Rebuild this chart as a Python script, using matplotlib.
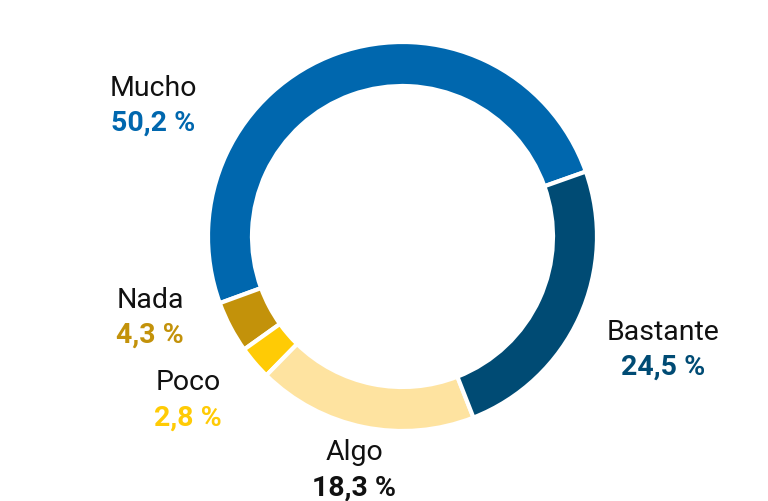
import matplotlib.pyplot as plt

plt.rcParams['font.family'] = ['Roboto', 'DejaVu Sans']

labels = ['Mucho', 'Nada', 'Poco', 'Algo', 'Bastante']
values = [50.2, 4.3, 2.8, 18.3, 24.5]
colors = ['#0067ae', '#c3920a', '#ffcb05', '#fee3a0', '#004b74']
pct_colors = ['#0067ae', '#c3920a', '#ffcb05', '#111111', '#004b74']

# label anchor points (pixel space, y up)
label_pos = [(153, 414), (150, 202), (188, 119), (354, 49), (663, 170)]

fig = plt.figure(figsize=(7.68, 5.02), dpi=100)
ax = fig.add_axes([0, 0, 1, 1])

ax.pie(values, colors=colors, startangle=19.5, counterclock=True,
       center=(402.5, 264.5), radius=194.5,
       wedgeprops=dict(width=44, edgecolor='white', linewidth=3))
ax.set_xlim(0, 768)
ax.set_ylim(0, 502)
ax.set_aspect('equal')
ax.axis('off')

for lab, val, (x, y), c in zip(labels, values, label_pos, pct_colors):
    ax.text(x, y, lab, ha='center', va='center', fontsize=20.5, color='#111111')
    pct = f'{val:.1f}'.replace('.', ',') + ' %'
    ax.text(x, y - 35, pct, ha='center', va='center', fontsize=20.5,
            fontweight='bold', color=c)

fig.savefig('out.png', dpi=100)
